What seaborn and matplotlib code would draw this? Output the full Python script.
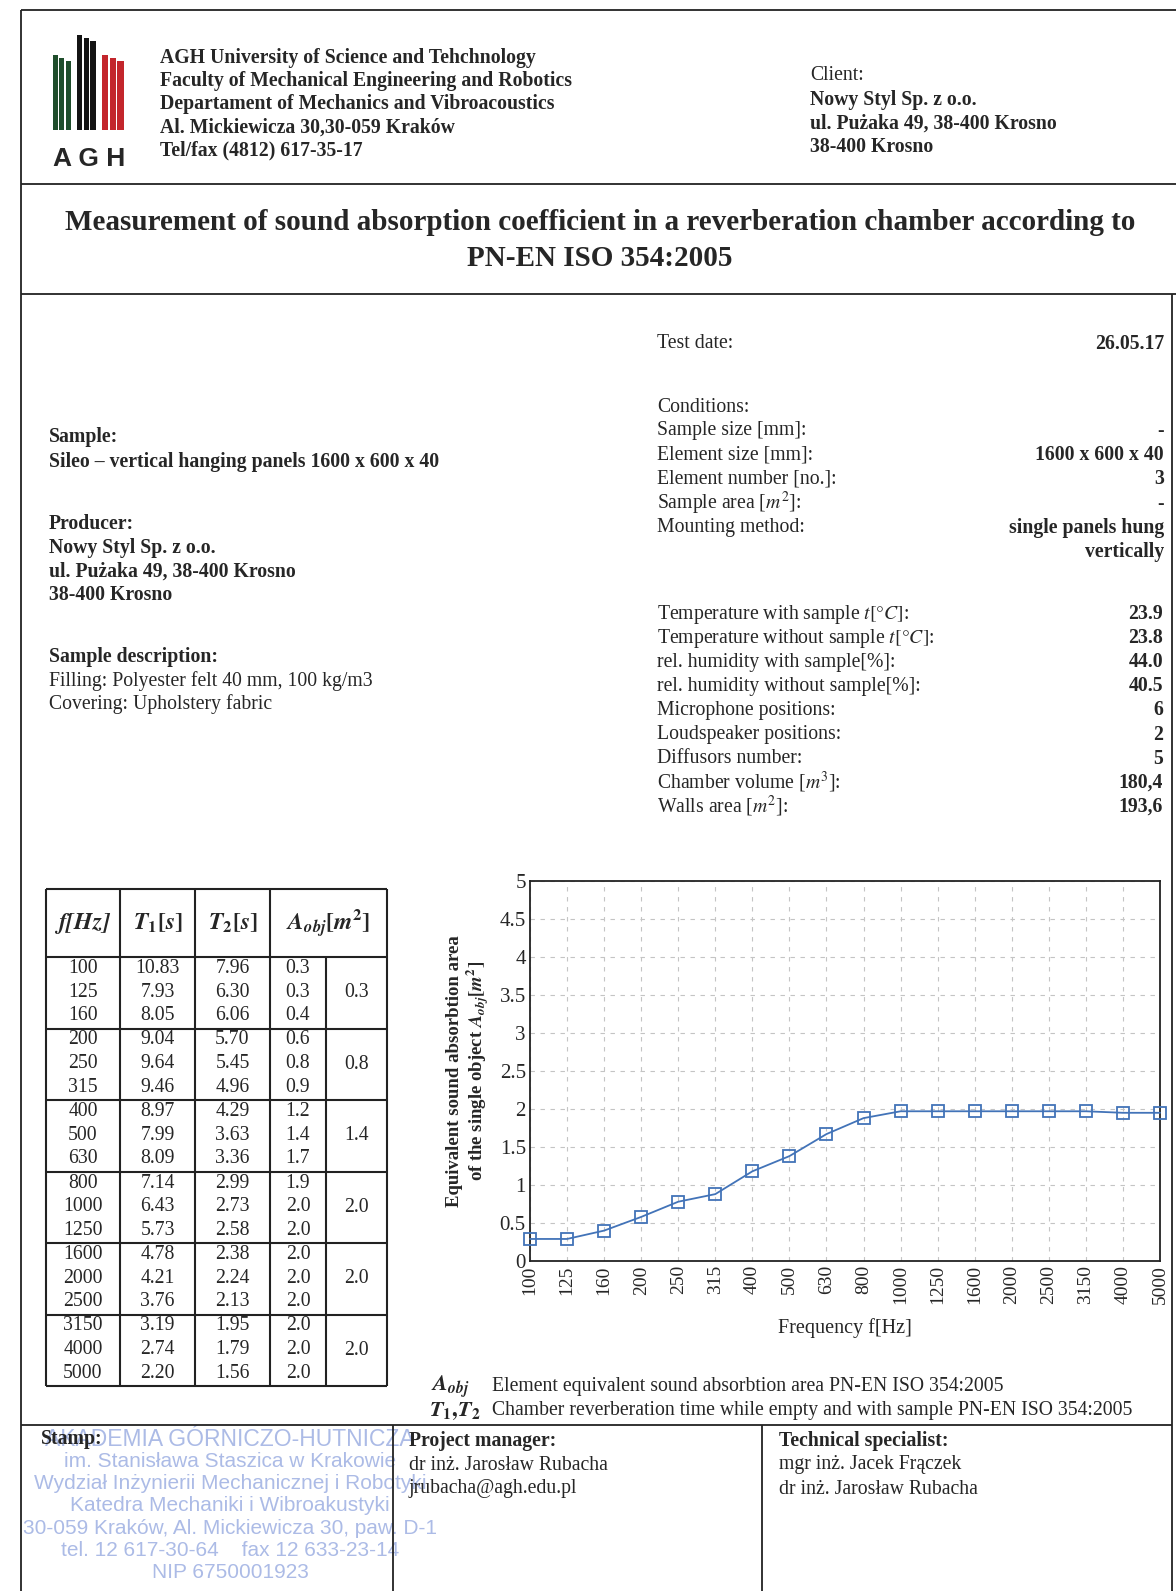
import numpy as np
import pandas as pd
import matplotlib
matplotlib.use("Agg")
import matplotlib.pyplot as plt
import seaborn as sns

# values
freqs = ['100', '125', '160', '200', '250', '315', '400', '500', '630', '800',
         '1000', '1250', '1600', '2000', '2500', '3150', '4000', '5000']
t1 = ['10.83', '7.93', '8.05', '9.04', '9.64', '9.46', '8.97', '7.99', '8.09',
      '7.14', '6.43', '5.73', '4.78', '4.21', '3.76', '3.19', '2.74', '2.20']
t2 = ['7.96', '6.30', '6.06', '5.70', '5.45', '4.96', '4.29', '3.63', '3.36',
      '2.99', '2.73', '2.58', '2.38', '2.24', '2.13', '1.95', '1.79', '1.56']
a_tab = ['0.3', '0.3', '0.4', '0.6', '0.8', '0.9', '1.2', '1.4', '1.7',
         '1.9', '2.0', '2.0', '2.0', '2.0', '2.0', '2.0', '2.0', '2.0']
a_oct = ['0.3', '0.8', '1.4', '2.0', '2.0', '2.0']
a_plot = [0.29, 0.29, 0.40, 0.58, 0.78, 0.88, 1.18, 1.38, 1.67, 1.88,
          1.97, 1.97, 1.97, 1.97, 1.97, 1.97, 1.95, 1.95]
yticks = [0, 0.5, 1, 1.5, 2, 2.5, 3, 3.5, 4, 4.5, 5]
ytick_labels = ['0', '0.5', '1', '1.5', '2', '2.5', '3', '3.5', '4', '4.5', '5']

header = ['AGH University of Science and Tehchnology',
          'Faculty of Mechanical Engineering and Robotics',
          'Departament of Mechanics and Vibroacoustics',
          'Al. Mickiewicza 30,30-059 Kraków',
          'Tel/fax (4812) 617-35-17']
client = ['Nowy Styl Sp. z o.o.', 'ul. Pużaka 49, 38-400 Krosno', '38-400 Krosno']
cond_labels = ['Sample size [mm]:', 'Element size [mm]:', 'Element number [no.]:',
               r'Sample area [$m^2$]:', 'Mounting method:', '']
cond_values = ['-', '1600 x 600 x 40', '3', '-', 'single panels hung', 'vertically']
env_labels = [r'Temperature with sample $t[°C]$:', r'Temperature without sample $t[°C]$:',
              'rel. humidity with sample[%]:', 'rel. humidity without sample[%]:',
              'Microphone positions:', 'Loudspeaker positions:', 'Diffusors number:',
              r'Chamber volume [$m^3$]:', r'Walls area [$m^2$]:']
env_values = ['23.9', '23.8', '44.0', '40.5', '6', '2', '5', '180,4', '193,6']
stamp = ['AKADEMIA GÓRNICZO-HUTNICZA', 'im. Stanisława Staszica w Krakowie',
         'Wydział Inżynierii Mechanicznej i Robotyki', 'Katedra Mechaniki i Wibroakustyki',
         '30-059 Kraków, Al. Mickiewicza 30, paw. D-1', 'tel. 12 617-30-64    fax 12 633-23-14',
         'NIP 6750001923']

sns.set_style("white")
plt.rcParams['font.family'] = ['Liberation Serif', 'DejaVu Serif']
plt.rcParams['mathtext.fontset'] = 'stix'

BODY = 14.2
W, H = 1176, 1591
fig = plt.figure(figsize=(W / 100, H / 100), dpi=100)
bg = fig.add_axes([0, 0, 1, 1])
bg.set_xlim(0, W)
bg.set_ylim(H, 0)
bg.axis('off')

def line(x0, y0, x1, y1, lw=1.3):
    bg.plot([x0, x1], [y0, y1], color='#222222', lw=lw, solid_capstyle='butt')

def txt(x, y, s, size=BODY, bold=False, ha='left', **kw):
    bg.text(x, y, s, fontsize=size, fontweight='bold' if bold else 'normal',
            ha=ha, va='center', **kw)

# page frame
line(21, 10, W, 10)
line(21, 10, 21, H)
line(21, 184, W, 184)
line(21, 294, W, 294)
line(1172, 294, 1172, H)
line(21, 1425, 1172, 1425)
line(393, 1425, 393, H)
line(762, 1425, 762, H)

# logo
for (x0, x1, top, col) in [(53, 72, 55, '#1f4e2c'), (77, 97, 35, '#141414'), (102, 125, 55, '#c3262c')]:
    w = (x1 - x0) / 3
    for i in range(3):
        bg.add_patch(plt.Rectangle((x0 + i * w, top + i * 3), w - 1.5, 130 - top - i * 3,
                                   color=col, lw=0))
txt(89, 159, 'A G H', size=19, bold=True, ha='center', family='Liberation Sans')

for i, s in enumerate(header):
    txt(160, 58 + i * 23.2, s, bold=True)
txt(810, 76, 'Client:')
for i, s in enumerate(client):
    txt(810, 100 + i * 23.7, s, bold=True)

txt(600, 223, 'Measurement of sound absorption coefficient in a reverberation chamber according to',
    size=21, bold=True, ha='center')
txt(600, 259, 'PN-EN ISO 354:2005', size=21, bold=True, ha='center')

# conditions block
txt(657, 344, 'Test date:')
txt(1164, 344, '26.05.17', bold=True, ha='right')
txt(657, 407, 'Conditions:')
for i, (l, v) in enumerate(zip(cond_labels, cond_values)):
    y = 431 + i * 24.2
    if l:
        txt(657, y, l)
    txt(1164, y, v, bold=True, ha='right')
for i, (l, v) in enumerate(zip(env_labels, env_values)):
    y = 614 + i * 24.1
    txt(657, y, l)
    txt(1163, y, v, bold=True, ha='right')

# sample block
txt(49, 437, 'Sample:', bold=True)
txt(49, 462, 'Sileo – vertical hanging panels 1600 x 600 x 40', bold=True)
txt(49, 524, 'Producer:', bold=True)
for i, s in enumerate(client):
    txt(49, 548 + i * 23.5, s, bold=True)
txt(49, 657, 'Sample description:', bold=True)
txt(49, 681, 'Filling: Polyester felt 40 mm, 100 kg/m3')
txt(49, 704, 'Covering: Upholstery fabric')

# table
cols = [46, 120, 195, 270, 326, 387]
t_top, h_bot, t_bot = 889, 957, 1386
line(cols[0], t_top, cols[-1], t_top, lw=1.5)
line(cols[0], t_bot, cols[-1], t_bot, lw=1.5)
for k, x in enumerate(cols):
    line(x, t_top if k != 4 else h_bot, x, t_bot, lw=1.5)
line(cols[0], h_bot, cols[-1], h_bot, lw=1.5)
grp = (t_bot - h_bot) / 6
for g in range(1, 6):
    line(cols[0], h_bot + g * grp, cols[-1], h_bot + g * grp, lw=1.5)
hy = (t_top + h_bot) / 2
txt((cols[0] + cols[1]) / 2, hy, r'$\mathbfit{f[Hz]}$', size=17, ha='center')
txt((cols[1] + cols[2]) / 2, hy, r'$\mathbfit{T}_\mathbf{1}\mathbf{[}\mathbfit{s}\mathbf{]}$', size=17, ha='center')
txt((cols[2] + cols[3]) / 2, hy, r'$\mathbfit{T}_\mathbf{2}\mathbf{[}\mathbfit{s}\mathbf{]}$', size=17, ha='center')
txt((cols[3] + cols[5]) / 2, hy, r'$\mathbfit{A}_{\mathbfit{obj}}\mathbf{[}\mathbfit{m}^\mathbf{2}\mathbf{]}$', size=17, ha='center')
for i in range(len(freqs)):
    g, r = divmod(i, 3)
    y = h_bot + g * grp + 11.5 + r * 23.6
    for c, vals in enumerate([freqs, t1, t2, a_tab]):
        txt((cols[c] + cols[c + 1]) / 2, y, vals[i], ha='center')
for g, v in enumerate(a_oct):
    txt((cols[4] + cols[5]) / 2, h_bot + (g + 0.5) * grp, v, ha='center')

# legend notes
txt(431, 1387, r'$\mathbfit{A}_{\mathbfit{obj}}$', size=16)
txt(492, 1387, 'Element equivalent sound absorbtion area PN-EN ISO 354:2005')
txt(429, 1411, r'$\mathbfit{T}_\mathbf{1}\mathbf{,}\mathbfit{T}_\mathbf{2}$', size=16)
txt(492, 1411, 'Chamber reverberation time while empty and with sample PN-EN ISO 354:2005')

# footer
for i, s in enumerate(stamp):
    txt(230, 1439 + i * 22.3, s, size=15 if i else 16.5, ha='center', family='Liberation Sans',
        color='#97aae0', alpha=0.8, zorder=1)
txt(41, 1439, 'Stamp:', bold=True, zorder=3)
txt(409, 1441, 'Project manager:', bold=True, zorder=3)
txt(409, 1465, 'dr inż. Jarosław Rubacha', zorder=3)
txt(409, 1489, 'jrubacha@agh.edu.pl', zorder=3)
txt(779, 1441, 'Technical specialist:', bold=True)
txt(779, 1465, 'mgr inż. Jacek Frączek')
txt(779, 1489, 'dr inż. Jarosław Rubacha')

# chart
ax = fig.add_axes([530 / W, 1 - 1261 / H, (1160 - 530) / W, (1261 - 881) / H])
df = pd.DataFrame({'f': freqs, 'A': a_plot})
sns.lineplot(data=df, x='f', y='A', sort=False, ax=ax, color='#4273b8', lw=1.3,
             marker='s', markersize=8.5, markerfacecolor='none',
             markeredgecolor='#4273b8', markeredgewidth=1.3, clip_on=False, zorder=3)
ax.set_xlim(0, len(freqs) - 1)
ax.set_ylim(0, 5)
ax.set_yticks(yticks)
ax.set_yticklabels(ytick_labels, fontsize=15)
ax.set_xticks(range(len(freqs)))
ax.set_xticklabels(freqs, rotation=90, fontsize=14)
ax.tick_params(direction='in', length=4, width=0.8, pad=3)
ax.grid(True, color='#c4c4c4', lw=0.8, ls=(0, (4, 5)))
for sp in ax.spines.values():
    sp.set_color('#222222')
    sp.set_linewidth(1.3)
ax.set_xlabel('Frequency f[Hz]', fontsize=14.5, labelpad=10)
ax.set_ylabel('Equivalent sound absorbtion area\n' + r'of the single object $\mathbfit{A}_{\mathbfit{obj}}\mathbf{[}\mathbfit{m}^\mathbf{2}\mathbf{]}$',
              fontsize=13.5, fontweight='bold', labelpad=6, linespacing=1.1)

fig.savefig('out.png', dpi=100)
